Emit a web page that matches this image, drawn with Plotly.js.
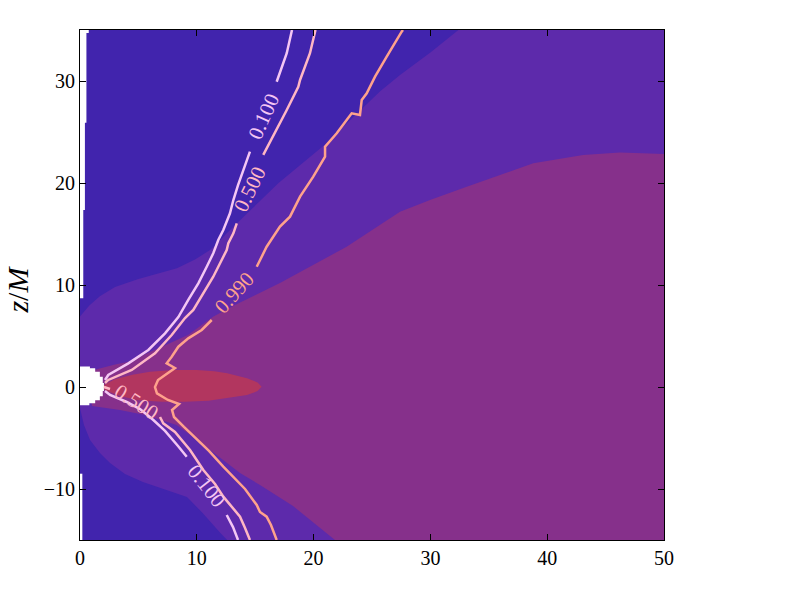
<!DOCTYPE html>
<html>
<head>
<meta charset="utf-8">
<script src="https://cdn.plot.ly/plotly-3.0.1.min.js"></script>
<style>html,body{margin:0;padding:0;background:#fff}#chart{width:800px;height:600px}</style>
</head>
<body>
<div id="chart"></div>
<script>
// ---- axis ticks ----
const xTickVals = [0, 10, 20, 30, 40, 50];
const yTickVals = [-10, 0, 10, 20, 30];
const yTickText = ['\u221210', '0', '10', '20', '30'];

// ---- filled regions (boundaries, data units) ----
const purpleX = [0, 0.8, 1.7, 3.0, 4.0, 5.0, 6.0, 7.6, 8.3, 9.85, 11.1, 11.6, 12.5, 14.3, 17.0, 20.8, 23.3, 25.7, 27.4, 30.0, 32.4,
                 50, 50, 12.6, 12.0, 10.5, 9.16, 7.45, 5.39, 3.85, 2.57, 1.71, 0.86, 0.34, 0.04, 0];
const purpleY = [6.9, 8.0, 8.9, 9.8, 10.2, 10.6, 10.9, 11.4, 11.65, 12.5, 13.4, 13.9, 15.0, 17.0, 20.0, 23.6, 26.4, 29.0, 30.6, 32.8, 35,
                 35, -15, -15, -14.3, -12.35, -10.78, -10.1, -9.31, -8.53, -7.45, -6.47, -5.2, -3.73, -2.06, -2.06];

const magentaX = [0.8, 1.28, 3.0, 4.28, 5.57, 7.02, 9.25, 11.39, 13.27, 17.12, 22.83, 27.4, 29.97, 33.11, 38.81, 43.07, 46.23, 50,
                  50, 21.83, 18.24, 15.41, 13.7, 11.7, 10.27, 8.28, 5.57, 3.42, 1.03, 0.8];
const magentaY = [1.6, 1.7, 2.2, 2.5, 3.2, 3.92, 5.1, 6.89, 8.04, 10.2, 13.75, 17.19, 18.33, 19.64, 21.93, 22.75, 23.0, 22.84,
                  -15, -15, -11.67, -9.61, -8.43, -6.67, -5.39, -3.73, -2.75, -2.25, -1.86, 0];

const redX = [1.8, 3.0, 4.5, 6.0, 8.0, 10.0, 11.5, 12.6, 14.3, 15.2, 15.55, 15.2, 14.3, 12.6, 11.0, 9.0, 7.0, 5.0, 3.5, 2.2];
const redY = [0.05, 0.75, 1.2, 1.5, 1.67, 1.67, 1.55, 1.34, 0.85, 0.45, 0.03, -0.4, -0.78, -1.1, -1.35, -1.44, -1.44, -1.3, -0.9, -0.35];

// masked (white) areas
const holeX = [0, 0.85, 0.85, 1.3, 1.3, 1.7, 1.7, 1.95, 1.95, 2.05, 2.05, 1.95, 1.95, 1.7, 1.7, 1.3, 1.3, 0.8, 0.8, 0];
const holeY = [2.0, 2.0, 1.85, 1.85, 1.5, 1.5, 1.0, 1.0, 0.4, 0.4, -0.4, -0.4, -0.9, -0.9, -1.3, -1.3, -1.6, -1.6, -1.8, -1.8];
const stripTopX = [0, 0.75, 0.75, 0.55, 0.55, 0.42, 0.42, 0.28, 0.28, 0];
const stripTopY = [35, 35, 34.7, 34.7, 25.9, 25.9, 17.35, 17.35, 8.7, 8.7];
const stripBotX = [0, 0.2, 0.2, 0];
const stripBotY = [-8.5, -8.5, -15, -15];

// ---- contour lines (null = gap for inline label) ----
const c100UpX = [2.14, 2.42, 4.14, 5.85, 7.28, 8.42, 9.27, 10.13, 10.85, 11.41, 11.84, 12.27, 12.84, 13.13, 13.53, 13.98, 14.55, null, 16.84, 17.70, 18.15];
const c100UpY = [0.69, 1.18, 2.32, 3.63, 5.26, 6.86, 8.53, 10.17, 11.79, 13.11, 14.41, 15.39, 17.03, 18.33, 19.8, 21.27, 23.07, null, 29.93, 32.72, 35];
const c500UpX = [2.14, 2.42, 4.43, 6.42, 7.85, 8.99, 9.70, 10.56, 11.41, 11.99, 12.56, 12.70, 13.13, 13.42, null, 15.69, 16.84, 17.70, 18.69, 18.84, 19.69, 20.12, 20.16];
const c500UpY = [0.39, 0.69, 1.67, 3.30, 5.10, 6.76, 7.55, 9.19, 10.81, 12.13, 13.43, 14.09, 15.07, 16.05, null, 22.75, 25.20, 27.16, 29.44, 30.10, 32.72, 34.83, 35];
const c100LoX = [2.14, 2.57, 4.0, 5.14, 6.28, 7.28, 8.39, 9.14, null, 12.56, 13.1, 13.53];
const c100LoY = [-0.39, -0.78, -1.47, -2.16, -3.24, -4.31, -5.78, -6.83, null, -12.55, -13.73, -15];
const c500LoX = [2.05, 2.57, null, 6.85, 7.13, 8.13, 9.42, 10.56, 11.56, 12.27, 13.01, 13.70, 14.13, 14.55];
const c500LoY = [0, -0.2, null, -2.94, -3.56, -4.41, -6.18, -8.14, -9.51, -10.75, -11.76, -12.71, -13.82, -15];
const c990X = [27.65, 27.54, 26.26, 25.26, 24.55, 24.12, 23.97, 23.26, 22.83, 21.98, 20.98, 20.98, 19.97, 18.84, 17.98, 17.12, 15.98, 15.13, null,
               11.28, 10.42, 9.27, 8.42, 7.85, 7.42, 8.13, 7.53, 6.68, 6.42, 6.59, 7.53, 8.48, 7.88, 8.05, 8.90, 10.02, 11.04, 12.27, 13.13, 14.13, 15.13, 15.41, 15.98, 16.35, 16.84];
const c990Y = [35, 34.83, 32.38, 30.42, 28.79, 28.14, 26.67, 26.83, 26.18, 24.87, 23.56, 22.58, 20.62, 18.66, 16.70, 15.72, 13.75, 11.79, null,
               6.57, 5.59, 4.77, 3.95, 2.97, 2.32, 1.86, 1.37, 0.69, 0, -0.62, -1.27, -1.67, -2.25, -2.94, -3.92, -5.20, -6.27, -7.81, -8.79, -10.0, -11.57, -12.25, -12.71, -13.53, -15];

// inline labels
const labelText  = ['0.100', '0.500', '0.990', '0.500', '0.100'];
const labelX     = [15.69, 14.55, 13.2, 4.84, 10.85];
const labelY     = [26.5, 19.41, 9.19, -1.44, -9.69];
const labelAngle = [-66, -64, -48, 33, 52];
const labelLevel = [0, 1, 2, 1, 0];

const colDark = '#4124ad', colPurple = '#5d2aab', colMagenta = '#86308b', colRed = '#b2365f';
const levelColors = ['#f4c6f4', '#ffb7c4', '#ffa28c'];

function region(x, y, c) {
  return {x: x, y: y, type: 'scatter', mode: 'lines', fill: 'toself', fillcolor: c,
          line: {width: 0, color: c}, hoverinfo: 'skip', showlegend: false};
}
function cline(x, y, c) {
  return {x: x, y: y, type: 'scatter', mode: 'lines', line: {width: 2.5, color: c},
          connectgaps: false, hoverinfo: 'skip', showlegend: false};
}

const traces = [
  region(purpleX, purpleY, colPurple),
  region(magentaX, magentaY, colMagenta),
  region(redX, redY, colRed),
  region(holeX, holeY, '#ffffff'),
  region(stripTopX, stripTopY, '#ffffff'),
  region(stripBotX, stripBotY, '#ffffff'),
  cline(c100UpX, c100UpY, levelColors[0]),
  cline(c500UpX, c500UpY, levelColors[1]),
  cline(c100LoX, c100LoY, levelColors[0]),
  cline(c500LoX, c500LoY, levelColors[1]),
  cline(c990X, c990Y, levelColors[2])
];

const font = 'Liberation Serif, Times New Roman, serif';
const annotations = labelText.map((t, i) => ({
  x: labelX[i], y: labelY[i], xref: 'x', yref: 'y', text: t, showarrow: false,
  xanchor: 'center', yanchor: 'middle',
  textangle: labelAngle[i], font: {family: font, size: 21, color: levelColors[labelLevel[i]]}
}));
annotations.push({
  x: -0.107, y: 0.49, xref: 'paper', yref: 'paper', text: '<i>z</i>/<i>M</i>', showarrow: false,
  xanchor: 'center', yanchor: 'middle',
  textangle: -90, font: {family: font, size: 30, color: '#000'}
});

const axisCommon = {
  showgrid: false, zeroline: false, showline: true, linecolor: '#000', linewidth: 1,
  mirror: 'ticks', ticks: 'inside', ticklen: 6, tickwidth: 1, tickcolor: '#000',
  tickfont: {family: font, size: 20, color: '#000'}
};

const layout = {
  width: 800, height: 600,
  margin: {l: 80, r: 136, t: 30, b: 60},
  paper_bgcolor: '#ffffff', plot_bgcolor: colDark,
  showlegend: false,
  xaxis: Object.assign({}, axisCommon, {range: [0, 50], tickvals: xTickVals, ticktext: xTickVals.map(String)}),
  yaxis: Object.assign({}, axisCommon, {range: [-15, 35], tickvals: yTickVals, ticktext: yTickText}),
  annotations: annotations
};

Plotly.newPlot('chart', traces, layout, {staticPlot: true, displayModeBar: false});
</script>
</body>
</html>
